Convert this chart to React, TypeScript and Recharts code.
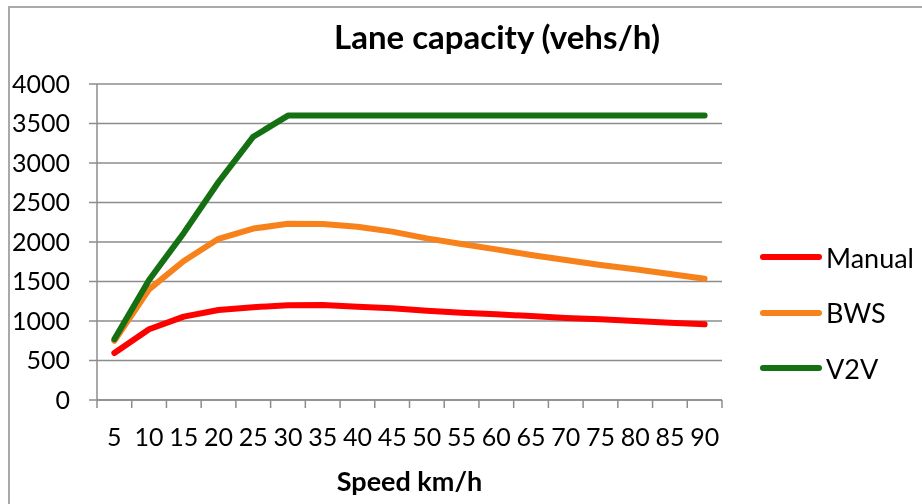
import { CartesianGrid, Line, LineChart, XAxis, YAxis } from "recharts";

const speeds = [5, 10, 15, 20, 25, 30, 35, 40, 45, 50, 55, 60, 65, 70, 75, 80, 85, 90];
const manual = [595, 895, 1055, 1140, 1175, 1200, 1203, 1181, 1160, 1131, 1105, 1084, 1063, 1038, 1021, 1000, 979, 958];
const bws = [750, 1400, 1760, 2040, 2170, 2230, 2228, 2194, 2131, 2046, 1975, 1907, 1835, 1772, 1709, 1654, 1595, 1536];
const v2v = [770, 1520, 2115, 2760, 3333, 3600, 3600, 3600, 3600, 3600, 3600, 3600, 3600, 3600, 3600, 3600, 3600, 3600];
const yTicks = [0, 500, 1000, 1500, 2000, 2500, 3000, 3500, 4000];

const series = [
  { key: "manual", name: "Manual", color: "#ff0000" },
  { key: "bws", name: "BWS", color: "#f7821b" },
  { key: "v2v", name: "V2V", color: "#157014" },
];

const data = speeds.map((speed, i) => ({ speed, manual: manual[i], bws: bws[i], v2v: v2v[i] }));

const font = "Lato, 'Open Sans', sans-serif";
const gridColor = "#8c8c8c";
const X_TICK_SIZE = 6;
const X_TICK_MARGIN = 22;

// label in the middle of the category, tick mark on the boundary to its left
function SpeedTick(props: any) {
  const { x, y, payload, width, index } = props;
  const half = width / speeds.length / 2;
  const axisY = y - X_TICK_SIZE - X_TICK_MARGIN;
  const isLast = index === speeds.length - 1;
  return (
    <g>
      <line x1={x - half} x2={x - half} y1={axisY} y2={axisY + 8} stroke={gridColor} strokeWidth={1.5} />
      {isLast && (
        <line x1={x + half} x2={x + half} y1={axisY} y2={axisY + 8} stroke={gridColor} strokeWidth={1.5} />
      )}
      <text x={x} y={y} dy="0.71em" textAnchor="middle" fill="#000" fontSize={25} fontFamily={font}>
        {payload.value}
      </text>
    </g>
  );
}

export default function App() {
  return (
    <div style={{ position: "relative", width: 914, height: 496, fontFamily: font }}>
      <div
        style={{
          position: "fixed",
          left: 8,
          top: 6,
          width: 1000,
          height: 600,
          border: "2px solid #a9a9a9",
          pointerEvents: "none",
        }}
      />
      <div
        style={{
          position: "absolute",
          left: 0,
          width: 978,
          top: 8,
          textAlign: "center",
          fontSize: 33,
          fontWeight: 700,
          color: "#000",
        }}
      >
        Lane capacity (vehs/h)
      </div>
      <LineChart width={914} height={496} data={data} margin={{ top: 76, right: 200, bottom: 0, left: 0 }}>
        <CartesianGrid horizontal vertical={false} stroke={gridColor} strokeWidth={1.5} />
        <XAxis
          dataKey="speed"
          type="number"
          domain={[2.5, 92.5]}
          ticks={speeds}
          interval={0}
          stroke={gridColor}
          strokeWidth={1.5}
          tickLine={false}
          tickSize={X_TICK_SIZE}
          tickMargin={X_TICK_MARGIN}
          height={104}
          tick={<SpeedTick />}
          label={{
            value: "Speed km/h",
            position: "insideBottom",
            offset: 13,
            fill: "#000",
            fontSize: 27,
            fontWeight: 700,
            fontFamily: font,
          }}
        />
        <YAxis
          domain={[0, 4000]}
          ticks={yTicks}
          width={89}
          tickSize={8}
          tickMargin={19}
          stroke={gridColor}
          strokeWidth={1.5}
          tick={{ fill: "#000", fontSize: 25, fontFamily: font }}
        />
        {series.map((s) => (
          <Line
            key={s.key}
            type="linear"
            dataKey={s.key}
            name={s.name}
            stroke={s.color}
            strokeWidth={6}
            strokeLinecap="round"
            strokeLinejoin="round"
            dot={false}
            activeDot={false}
            isAnimationActive={false}
          />
        ))}
      </LineChart>
      {series.map((s, i) => (
        <div
          key={s.key}
          style={{
            position: "absolute",
            left: 752,
            top: 249 + i * 55.5 - 16,
            height: 32,
            display: "flex",
            alignItems: "center",
            fontSize: 27,
            color: "#000",
          }}
        >
          <span
            style={{
              display: "inline-block",
              width: 62,
              height: 6,
              borderRadius: 3,
              background: s.color,
              marginRight: 4,
            }}
          />
          {s.name}
        </div>
      ))}
    </div>
  );
}
